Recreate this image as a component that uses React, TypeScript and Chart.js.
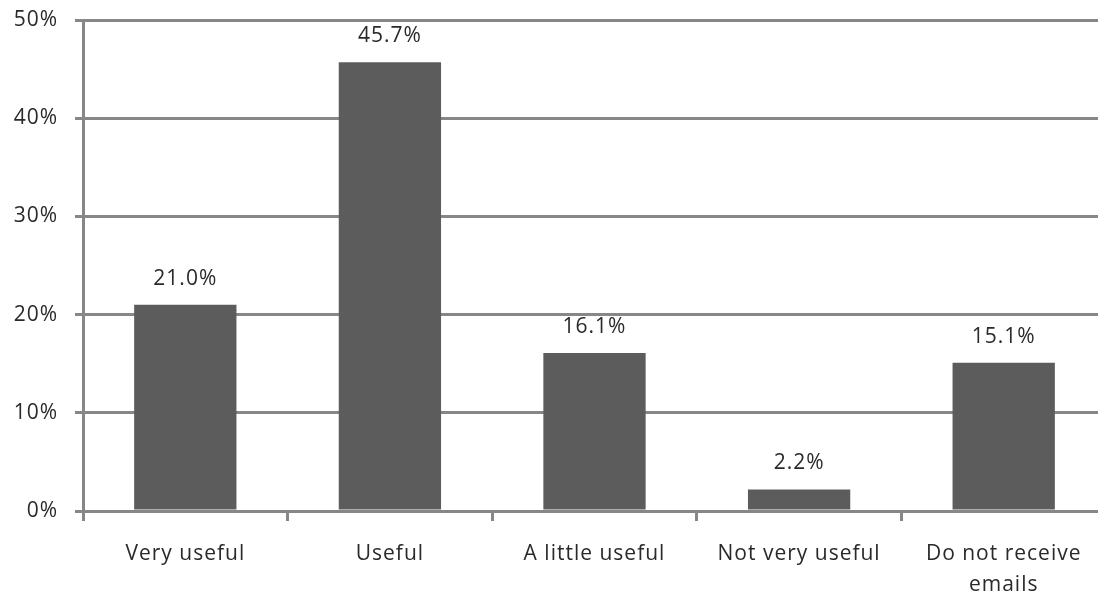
import React, { useEffect, useRef } from "react";
import { Chart, registerables } from "chart.js";

Chart.register(...registerables);

const categories: (string | string[])[] = [
  "Very useful",
  "Useful",
  "A little useful",
  "Not very useful",
  ["Do not receive", "emails"],
];
const values: number[] = [21.0, 45.7, 16.1, 2.2, 15.1];
const yTicks: number[] = [0, 10, 20, 30, 40, 50];

const FONT = "'Open Sans', Lato, sans-serif";
const GRID = "#878787";
const TEXT = "#2a2a2a";

const spacing = {
  id: "spacing",
  beforeDraw(chart: any) {
    chart.ctx.letterSpacing = "1px";
  },
};

const valueLabels = {
  id: "valueLabels",
  afterDatasetsDraw(chart: any) {
    const { ctx } = chart;
    const meta = chart.getDatasetMeta(0);
    ctx.save();
    ctx.letterSpacing = "1px";
    ctx.font = `21px ${FONT}`;
    ctx.fillStyle = TEXT;
    ctx.textAlign = "center";
    ctx.textBaseline = "middle";
    meta.data.forEach((bar: any, i: number) => {
      ctx.fillText(values[i].toFixed(1) + "%", bar.x, bar.y - 26);
    });
    ctx.restore();
  },
};

export default function App() {
  const ref = useRef<HTMLCanvasElement | null>(null);
  useEffect(() => {
    document.body.style.margin = "0";
    if (!ref.current) return;
    const chart = new Chart(ref.current, {
      type: "bar",
      data: {
        labels: categories,
        datasets: [
          {
            data: values,
            backgroundColor: "#5c5c5c",
            borderWidth: 0,
            barPercentage: 0.5,
            categoryPercentage: 1,
          },
        ],
      },
      options: {
        animation: false,
        responsive: false,
        maintainAspectRatio: false,
        layout: { padding: { top: 20, right: 0, left: 0, bottom: 0 } },
        plugins: { legend: { display: false }, tooltip: { enabled: false } },
        scales: {
          x: {
            offset: true,
            afterFit(scale: any) {
              scale.paddingLeft = 0;
              scale.paddingRight = 0;
              scale.height = 92;
            },
            grid: {
              offset: true,
              drawOnChartArea: false,
              drawTicks: true,
              tickLength: 10,
              color: GRID,
              lineWidth: 3,
            },
            border: { display: true, color: GRID, width: 3 },
            ticks: {
              color: TEXT,
              font: { family: FONT, size: 21, lineHeight: 1.5 },
              padding: 17,
              maxRotation: 0,
              autoSkip: false,
            },
          },
          y: {
            min: 0,
            max: 50,
            afterFit(scale: any) {
              scale.width = 83;
              scale.paddingTop = 0;
              scale.paddingBottom = 0;
            },
            afterBuildTicks(scale: any) {
              scale.ticks = yTicks.map((v) => ({ value: v }));
            },
            grid: {
              color: GRID,
              lineWidth: 3,
              drawTicks: true,
              tickLength: 8,
            },
            border: { display: true, color: GRID, width: 3 },
            ticks: {
              color: TEXT,
              font: { family: FONT, size: 21 },
              padding: 17,
              callback: (v: any) => v + "%",
            },
          },
        },
      },
      plugins: [spacing, valueLabels],
    });
    return () => chart.destroy();
  }, []);
  return (
    <div style={{ width: 1098, height: 603, overflow: "hidden" }}>
      <canvas ref={ref} width={1106} height={603} style={{ display: "block" }} />
    </div>
  );
}
